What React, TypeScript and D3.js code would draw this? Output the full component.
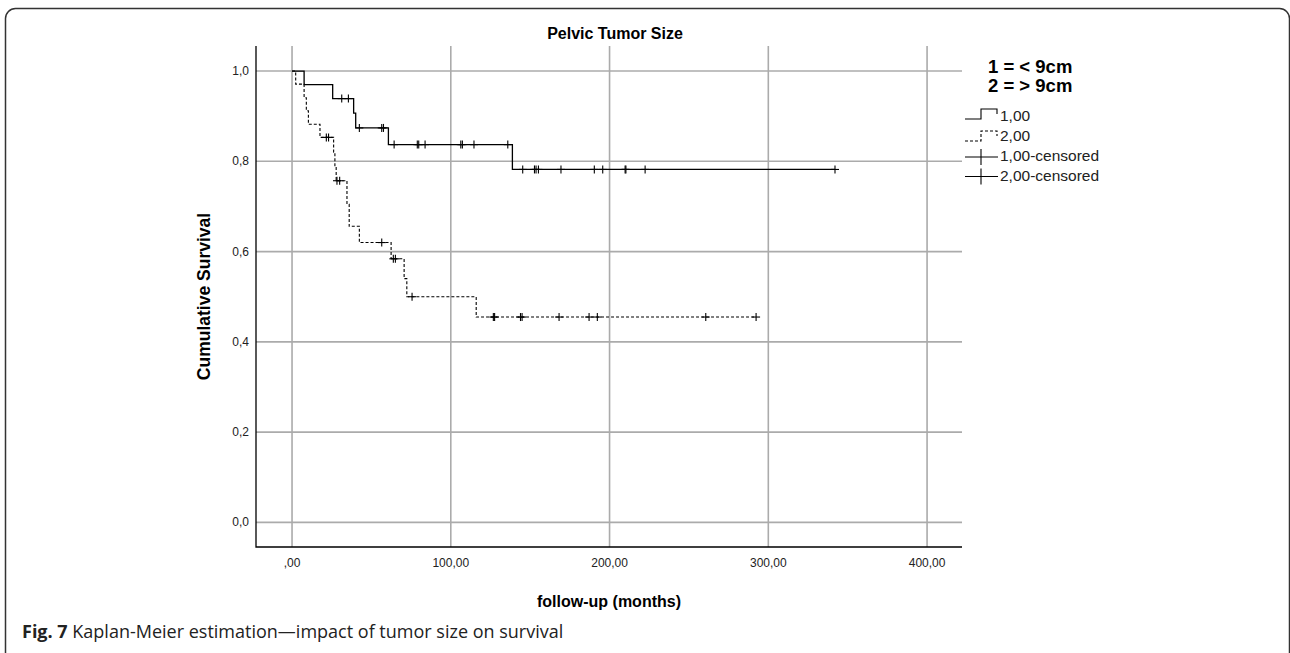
import * as d3 from "d3";

// Kaplan-Meier steps: [months, cumulative survival]
const groupSmallSteps: [number, number][] = [
  [0, 1], [7.6, 0.970], [25.6, 0.939], [38.8, 0.907], [40.1, 0.874], [60.7, 0.837], [138.8, 0.782],
];
const groupSmallEnd = 342;
const groupSmallCensored = [
  31.3, 35.5, 42.4, 56.5, 57.6, 64.3, 78.9, 79.8, 83.8, 106.3, 107.3, 114.6, 135.9,
  145.3, 152.7, 153.7, 155.2, 169.4, 190.4, 195.7, 209.8, 210.3, 222.4, 342,
];

const groupLargeSteps: [number, number][] = [
  [0, 1], [2.3, 0.971], [7.6, 0.941], [9, 0.912], [10.3, 0.882], [17.6, 0.853],
  [26.2, 0.820], [27, 0.788], [27.8, 0.757], [34.6, 0.705], [36, 0.656], [42.4, 0.620],
  [62.4, 0.584], [70.6, 0.540], [72.3, 0.500], [116, 0.455],
];
const groupLargeEnd = 292.3;
const groupLargeCensored = [
  21.6, 23, 28.3, 30, 56.5, 63.8, 65.1, 75.6, 126.8, 127.6, 143.9, 144.9, 168.2, 187.1, 192.3, 260.6, 292.3,
];

const xTicks = [0, 100, 200, 300, 400];
const xTickLabels = [",00", "100,00", "200,00", "300,00", "400,00"];
const yTicks = [0, 0.2, 0.4, 0.6, 0.8, 1];
const yTickLabels = ["0,0", "0,2", "0,4", "0,6", "0,8", "1,0"];
const legendHeader = ["1 = < 9cm", "2 = > 9cm"];
const legendLabels = ["1,00", "2,00", "1,00-censored", "2,00-censored"];

const W = 1290, H = 653;
const M = { left: 256, right: 962, top: 46, bottom: 547 };
const FONT = "'Liberation Sans', Arial, Helvetica, sans-serif";

const x = d3.scaleLinear().domain([-22.7, 422]).range([M.left, M.right]);
const y = d3.scaleLinear().domain([-0.0545, 1.0555]).range([M.bottom, M.top]);

const stepLine = d3.line<[number, number]>().x((d) => x(d[0])).y((d) => y(d[1])).curve(d3.curveStepAfter);

function survAt(steps: [number, number][], t: number) {
  let s = steps[0][1];
  for (const [ts, v] of steps) if (ts <= t) s = v;
  return s;
}

function Curve({ steps, end, censored, dash }: { steps: [number, number][]; end: number; censored: number[]; dash?: string }) {
  const pts: [number, number][] = [...steps, [end, steps[steps.length - 1][1]]];
  return (
    <g>
      <path d={stepLine(pts) ?? ""} fill="none" stroke="#000" strokeWidth={dash ? 1.1 : 1.3} strokeDasharray={dash} />
      {censored.map((c, i) => {
        const cx = x(c), cy = y(survAt(steps, c));
        return (
          <g key={i} stroke="#000" strokeWidth={1.1}>
            <line x1={cx} x2={cx} y1={cy - 4} y2={cy + 4} />
            <line x1={cx - 4} x2={cx + 4} y1={cy} y2={cy} />
          </g>
        );
      })}
    </g>
  );
}

export default function App() {
  const lx = 965, ly = 109;
  return (
    <svg width={W} height={H} style={{ position: "absolute", left: 0, top: 0, background: "#fff" }} fontFamily={FONT}>
      <rect x={5.5} y={8.5} width={1284} height={660} rx={10} fill="none" stroke="#333" strokeWidth={1.5} />

      {/* grid */}
      {yTicks.map((t) => (
        <line key={"gy" + t} x1={M.left} x2={M.right} y1={y(t)} y2={y(t)} stroke="#ababab" strokeWidth={1.6} />
      ))}
      {xTicks.map((t) => (
        <line key={"gx" + t} x1={x(t)} x2={x(t)} y1={M.top} y2={M.bottom} stroke="#ababab" strokeWidth={1.6} />
      ))}
      <path d={`M${M.left},${M.top}V${M.bottom}H${M.right}`} fill="none" stroke="#000" strokeWidth={1.3} />

      {yTicks.map((t, i) => (
        <text key={"ty" + t} x={249} y={y(t) + 4} textAnchor="end" fontSize={12} fill="#222">{yTickLabels[i]}</text>
      ))}
      {xTicks.map((t, i) => (
        <text key={"tx" + t} x={x(t)} y={567} textAnchor="middle" fontSize={12} fill="#222">{xTickLabels[i]}</text>
      ))}

      <Curve steps={groupSmallSteps} end={groupSmallEnd} censored={groupSmallCensored} />
      <Curve steps={groupLargeSteps} end={groupLargeEnd} censored={groupLargeCensored} dash="3,2" />

      <text x={(M.left + M.right) / 2 + 6} y={39} textAnchor="middle" fontSize={16} fontWeight="bold">Pelvic Tumor Size</text>
      <text x={(M.left + M.right) / 2} y={607} textAnchor="middle" fontSize={16} fontWeight="bold">follow-up (months)</text>
      <text transform={`translate(210,${(M.top + M.bottom) / 2}) rotate(-90)`} textAnchor="middle" fontSize={17.5} fontWeight="bold">Cumulative Survival</text>

      {/* legend */}
      {legendHeader.map((s, i) => (
        <text key={s} x={988} y={73 + i * 19} fontSize={18.5} fontWeight="bold">{s}</text>
      ))}
      <path d={`M${lx},${ly + 10}H${lx + 16}V${ly}H${lx + 32}V${ly + 5}`} fill="none" stroke="#000" strokeWidth={1.1} />
      <path d={`M${lx},${ly + 32}H${lx + 16}V${ly + 22}H${lx + 32}V${ly + 27}`} fill="none" stroke="#000" strokeWidth={1.1} strokeDasharray="3,2" />
      {[0, 1].map((k) => (
        <g key={k} stroke="#000" strokeWidth={1.1}>
          <line x1={lx} x2={lx + 33} y1={ly + 48 + k * 19.5} y2={ly + 48 + k * 19.5} />
          <line x1={lx + 16} x2={lx + 16} y1={ly + 40 + k * 19.5} y2={ly + 56 + k * 19.5} />
        </g>
      ))}
      {legendLabels.map((s, i) => (
        <text key={s} x={1000} y={120.5 + i * 20.3} fontSize={15.5} fill="#222">{s}</text>
      ))}

      <text x={22} y={638} fontSize={18} fontFamily="'Open Sans', 'Noto Sans', sans-serif" fill="#222">
        <tspan fontWeight="bold">Fig. 7</tspan> Kaplan-Meier estimation—impact of tumor size on survival
      </text>
    </svg>
  );
}
